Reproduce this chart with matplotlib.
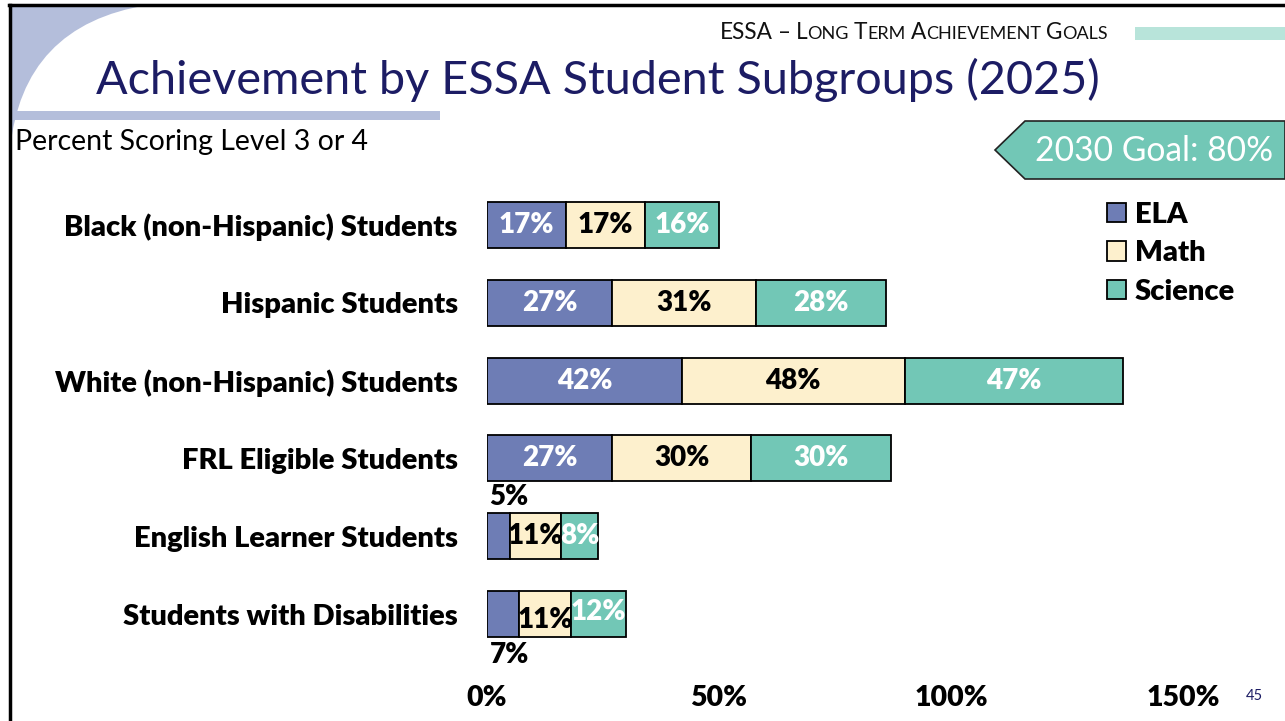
import numpy as np
import matplotlib.pyplot as plt
from matplotlib.patches import Polygon, Rectangle, PathPatch, Patch
from matplotlib.path import Path

plt.rcParams['font.family'] = ['Lato', 'DejaVu Sans']

groups = ["Black (non-Hispanic) Students", "Hispanic Students", "White (non-Hispanic) Students",
          "FRL Eligible Students", "English Learner Students", "Students with Disabilities"]
subjects = ["ELA", "Math", "Science"]
ela = [17, 27, 42, 27, 5, 7]
math = [17, 31, 48, 30, 11, 11]
science = [16, 28, 47, 30, 8, 12]
xticks = [0, 50, 100, 150]

colors = ["#6E7DB5", "#FDF0CD", "#72C7B6"]
text_colors = ["white", "black", "white"]
NAVY = "#1C1C64"
BOLD = "heavy"

W, H = 1285, 721
fig = plt.figure(figsize=(W / 100, H / 100), dpi=100)

def fx(x):
    return x / W

def fy(y):
    return 1 - y / H

# slide decoration
deco = "#B4BEDB"
verts = [(fx(10), fy(5)), (fx(148), fy(5)), (fx(22), fy(25)), (fx(10), fy(150)), (fx(10), fy(5))]
codes = [Path.MOVETO, Path.LINETO, Path.CURVE3, Path.CURVE3, Path.CLOSEPOLY]
fig.patches.append(PathPatch(Path(verts, codes), transform=fig.transFigure, facecolor=deco, edgecolor="none"))
fig.patches.append(Rectangle((fx(10), fy(120)), fx(430), 9 / H, transform=fig.transFigure,
                             facecolor=deco, edgecolor="none"))
fig.add_artist(plt.Line2D([fx(9), 1], [fy(5), fy(5)], transform=fig.transFigure, color="black", lw=2.5))
fig.add_artist(plt.Line2D([fx(10), fx(10)], [fy(5), 0], transform=fig.transFigure, color="black", lw=2.5))
fig.patches.append(Rectangle((fx(1135), fy(40)), fx(150), 13 / H, transform=fig.transFigure,
                             facecolor="#B8E4DA", edgecolor="none"))

# small caps header
fig.canvas.draw()
renderer = fig.canvas.get_renderer()
x = fx(720)
for word in "ESSA – Long Term Achievement Goals".split(" "):
    pieces = [(word[0], 16.3), (word[1:].upper(), 13)] if word != "ESSA" else [(word, 16.3)]
    for s, size in pieces:
        if not s:
            continue
        t = fig.text(x, fy(39), s, fontsize=size, color="#111111", va="baseline")
        bb = t.get_window_extent(renderer)
        x += bb.width / W
    x += 5 / W

fig.text(fx(598), fy(80), "Achievement by ESSA Student Subgroups (2025)", fontsize=33.7, color=NAVY,
         ha="center", va="center")
fig.text(fx(15), fy(142), "Percent Scoring Level 3 or 4", fontsize=20.5, color="black", va="center")
fig.text(fx(1254), fy(696), "45", fontsize=10.5, color=NAVY, ha="center", va="center")

# goal tag
tag = [(fx(995), fy(150)), (fx(1025), fy(121)), (1.0, fy(121)), (1.0, fy(179)), (fx(1025), fy(179))]
fig.patches.append(Polygon(tag, closed=True, transform=fig.transFigure, facecolor="#72C7B6",
                           edgecolor="#222222", lw=1.2))
fig.text(fx(1154), fy(151), "2030 Goal: 80%", fontsize=24.2, color="white", ha="center", va="center")

# chart
ax = fig.add_axes([fx(487), fy(653), (1183 - 487) / W, (653 - 186) / H])
y = np.arange(len(groups))
left = np.zeros(len(groups))
for i, vals in enumerate([ela, math, science]):
    vals = np.array(vals)
    ax.barh(y, vals, left=left, height=0.59, color=colors[i], edgecolor="black", linewidth=1.3,
            label=subjects[i])
    for j, v in enumerate(vals):
        cx = left[j] + v / 2
        cy = y[j]
        col = text_colors[i]
        if i == 0 and v < 10:
            # small ELA values sit outside the bar
            col = "black"
            cx = left[j] + 4.8
            cy = y[j] - 0.5 if j == 4 else y[j] + 0.53
        elif i == 1 and j == 5:
            cy = y[j] + 0.08
        elif i == 2 and j == 5:
            cy = y[j] - 0.03
        ax.text(cx, cy, f"{v}%", ha="center", va="center", fontsize=20, fontweight=BOLD, color=col)
    left += vals

ax.set_xlim(0, 150)
ax.set_ylim(len(groups) - 0.5, -0.5)
ax.set_yticks(y)
ax.set_yticklabels(groups, fontsize=21, fontweight=BOLD)
ax.set_xticks(xticks)
ax.set_xticklabels([f"{t}%" for t in xticks], fontsize=20.5, fontweight=BOLD)
ax.tick_params(axis="y", length=0, pad=21)
ax.tick_params(axis="x", length=0, pad=23)
for s in ax.spines.values():
    s.set_visible(False)

handles = [Patch(facecolor=c, edgecolor="black", linewidth=1.3) for c in colors]
fig.legend(handles, subjects, loc="upper left", bbox_to_anchor=(fx(1107), fy(202)), frameon=False,
           prop={"size": 21, "weight": BOLD}, handlelength=0.65, handleheight=0.65,
           handletextpad=0.3, labelspacing=0.42, borderaxespad=0, borderpad=0)

fig.savefig("out.png", dpi=100)
